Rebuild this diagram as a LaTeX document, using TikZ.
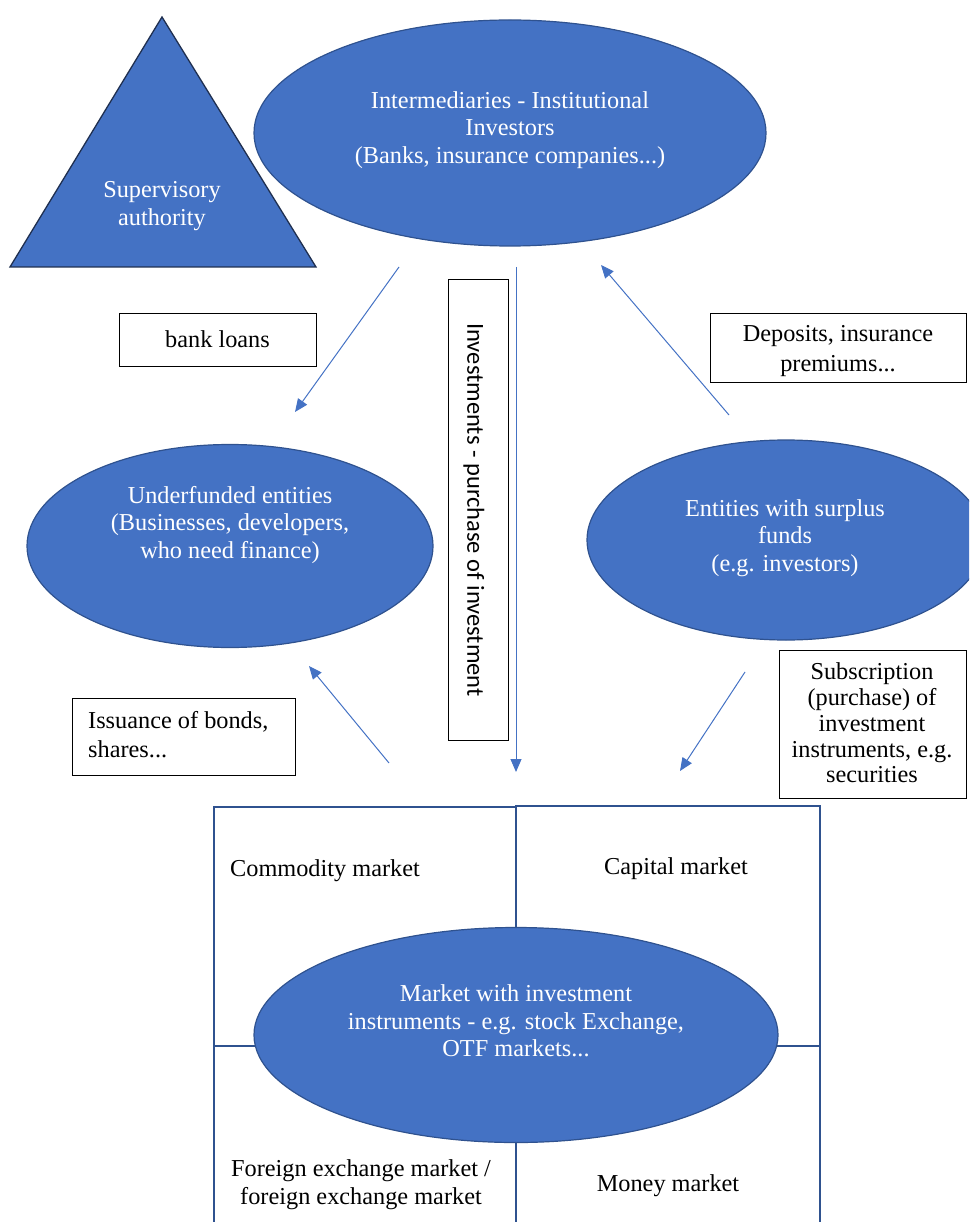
\documentclass[tikz,border=0pt]{standalone}
\usepackage{fontspec}
\setmainfont{Liberation Serif}
\newfontfamily\calib{Carlito}
\usetikzlibrary{arrows.meta,shapes.geometric}
\definecolor{fillblue}{HTML}{4472C4}
\definecolor{edgeblue}{HTML}{2F528F}
\definecolor{darknavy}{HTML}{1F2F50}
\begin{document}
\begin{tikzpicture}[x=1pt,y=-1pt,
  blob/.style={ellipse,fill=fillblue,draw=edgeblue,line width=1.2pt,inner sep=0pt},
  wtext/.style={text=white,align=center,inner sep=0pt,font=\fontsize{24.3}{27.5}\selectfont},
  lbox/.style={draw=black,line width=1pt,inner sep=0pt},
  btext/.style={align=center,inner sep=0pt,font=\fontsize{24.3}{28}\selectfont},
  flow/.style={draw=fillblue,line width=1pt,-{Triangle[length=13pt,width=11pt]}},
  cell/.style={draw=edgeblue,line width=1.6pt}]
\useasboundingbox (0,0) rectangle (969,1222);
\clip (0,0) rectangle (969,1222);

% supervisory authority
\coordinate (tapex) at (162,17);
\coordinate (tleft) at (10,267);
\coordinate (tright) at (316,267);
\draw[draw=darknavy,line width=1.3pt,fill=fillblue,line join=miter] (tapex) -- (tright) -- (tleft) -- cycle;
\node[wtext] (supt) at (162,206) {Supervisory\\authority};

% ellipses
\node[blob,minimum width=512,minimum height=226] (inter) at (510,133) {};
\node[wtext] (intert) at (510,130) {Intermediaries - Institutional\\Investors\\(Banks, insurance companies...)};

\node[blob,minimum width=406,minimum height=203] (under) at (230,546) {};
\node[wtext] (undert) at (230,525) {Underfunded entities\\(Businesses, developers,\\who need finance)};

\node[blob,minimum width=398,minimum height=200] (surp) at (786,540) {};
\node[wtext] (surpt) at (785,538) {Entities with surplus\\funds\\(e.g. investors)};

% market grid
\draw[cell] (214,807) rectangle (516,1046);
\draw[cell] (516,806) rectangle (820,1046);
\draw[cell] (214,1046) rectangle (516,1240);
\draw[cell] (516,1046) rectangle (820,1240);
\node[btext] (comm) at (325,871) {Commodity market};
\node[btext] (capi) at (676,869) {Capital market};
\node[btext] (fx) at (361,1185) {Foreign exchange market /\\foreign exchange market};
\node[btext] (money) at (668,1186) {Money market};

\node[blob,minimum width=524,minimum height=215] (mkt) at (516,1035) {};
\node[wtext] (mktt) at (516,1021) {Market with investment\\instruments - e.g. stock Exchange,\\OTF markets...};

% label boxes
\node[lbox,minimum width=197,minimum height=53] (loans) at (217.5,339.5) {};
\node[btext] at (loans.center) {bank loans};

\node[lbox,minimum width=256,minimum height=69] (depo) at (838,347.5) {};
\node[btext,font=\fontsize{24.3}{30}\selectfont] at (838,351) {Deposits, insurance\\premiums...};

\node[lbox,minimum width=223,minimum height=77] (issue) at (183.5,736.5) {};
\node[btext,align=left,font=\fontsize{24.3}{29}\selectfont,anchor=west] at (88,735) {Issuance of bonds,\\shares...};

\node[lbox,minimum width=187,minimum height=148] (subs) at (872.5,724) {};
\node[btext,font=\fontsize{24.3}{25.8}\selectfont] at (872,723) {Subscription\\(purchase) of\\investment\\instruments, e.g.\\securities};

\node[lbox,minimum width=60,minimum height=460] (inv) at (478,510) {};
\node[rotate=-90,inner sep=0pt,font=\calib\fontsize{24.5}{28}\selectfont] (invt) at (474,510) {Investments - purchase of investment};

% connectors
\coordinate (a1s) at (399,267); \coordinate (a1e) at (295,412);
\coordinate (a2s) at (516,267); \coordinate (a2e) at (516,772);
\coordinate (a3s) at (729,415); \coordinate (a3e) at (601,265);
\coordinate (a4s) at (389,763); \coordinate (a4e) at (309,666);
\coordinate (a5s) at (745,672); \coordinate (a5e) at (680,771);
\draw[flow] (a1s) -- (a1e);
\draw[flow] (a2s) -- (a2e);
\draw[flow] (a3s) -- (a3e);
\draw[flow] (a4s) -- (a4e);
\draw[flow] (a5s) -- (a5e);
\end{tikzpicture}
\end{document}
